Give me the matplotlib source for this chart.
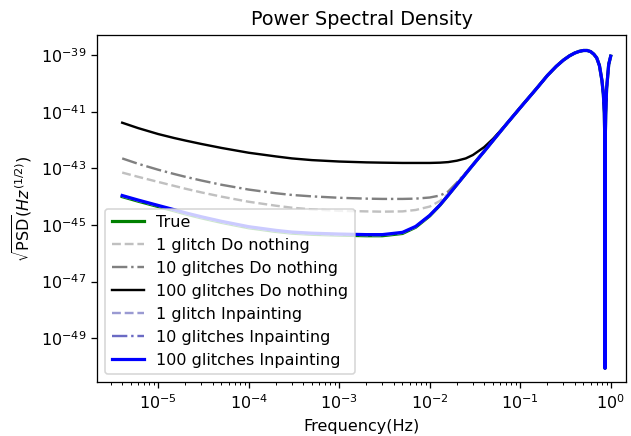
"""
plot.py - Densidad espectral de potencia (True / Do nothing / Inpainting)
"""

import numpy as np
import matplotlib.pyplot as plt
from matplotlib.ticker import LogLocator

# Frecuencias (Hz) donde se leyeron los valores de la figura
freq = [4e-6, 6e-6, 1e-5, 1.5e-5, 2e-5, 3e-5, 5e-5, 1e-4, 2e-4, 3e-4, 5e-4,
        1e-3, 2e-3, 3e-3, 5e-3, 7e-3, 1e-2, 1.3e-2, 1.6e-2, 2e-2, 2.5e-2,
        3e-2, 4e-2, 5e-2, 7e-2, 0.1, 0.15, 0.2, 0.25, 0.3, 0.35, 0.4, 0.45,
        0.5, 0.55, 0.6, 0.65, 0.7, 0.75, 0.8, 0.83, 0.85, 0.86, 0.865, 0.87,
        0.88, 0.9, 0.95, 1.0]

# log10(sqrt(PSD)) leido de la grafica
# parte comun a altas frecuencias (desde 3e-2 Hz)
true_high = [-42.88, -42.40, -42.02, -41.45, -40.86, -40.20, -39.72, -39.40,
             -39.18, -39.03, -38.93, -38.87, -38.84, -38.84, -38.88, -38.97,
             -39.10, -39.37, -39.90, -40.40, -41.05, -42.00, -50.06, -42.00,
             -41.10, -40.20, -39.33, -39.04]

log_true = [-44.00, -44.16, -44.35, -44.50, -44.61, -44.75, -44.91, -45.10,
            -45.23, -45.29, -45.33, -45.36, -45.38, -45.38, -45.30, -45.08,
            -44.68, -44.30, -43.95, -43.57, -43.19] + true_high
log_dn1 = [-43.15, -43.30, -43.48, -43.62, -43.72, -43.85, -44.00, -44.18,
           -44.32, -44.39, -44.45, -44.50, -44.52, -44.53, -44.52, -44.47,
           -44.35, -44.15, -43.90, -43.53, -43.17] + true_high
log_dn10 = [-42.65, -42.84, -43.05, -43.20, -43.30, -43.43, -43.58, -43.75,
            -43.88, -43.94, -43.99, -44.04, -44.07, -44.08, -44.08, -44.07,
            -44.03, -43.96, -43.82, -43.50, -43.16] + true_high
log_dn100 = [-41.39, -41.58, -41.79, -41.93, -42.02, -42.14, -42.28, -42.45,
             -42.58, -42.65, -42.71, -42.76, -42.79, -42.80, -42.81, -42.81,
             -42.81, -42.80, -42.78, -42.73, -42.65, -42.53, -42.25,
             -41.96] + true_high[3:]
log_inp1 = [-43.98, -44.14, -44.33, -44.48, -44.59, -44.73, -44.89, -45.08,
            -45.21, -45.27, -45.31, -45.34, -45.36, -45.36, -45.28, -45.07,
            -44.67, -44.29, -43.95, -43.57, -43.19] + true_high
log_inp10 = [-43.97, -44.13, -44.32, -44.47, -44.58, -44.72, -44.88, -45.07,
             -45.20, -45.26, -45.30, -45.33, -45.35, -45.35, -45.27, -45.06,
             -44.67, -44.29, -43.95, -43.57, -43.19] + true_high
log_inp100 = [-43.96, -44.12, -44.31, -44.46, -44.57, -44.71, -44.87, -45.06,
              -45.19, -45.25, -45.29, -45.32, -45.34, -45.34, -45.26, -45.05,
              -44.66, -44.29, -43.95, -43.57, -43.19] + true_high

labels = ['True', '1 glitch Do nothing', '10 glitches Do nothing',
          '100 glitches Do nothing', '1 glitch Inpainting',
          '10 glitches Inpainting', '100 glitches Inpainting']

series = [log_true, log_dn1, log_dn10, log_dn100, log_inp1, log_inp10, log_inp100]
colors = ['green', '#c0c0c0', '#808080', 'black', '#9a9ad2', '#6a6ac4', 'blue']
styles = ['-', '--', '-.', '-', '--', '-.', '-']
widths = [2, 1.5, 1.5, 1.5, 1.5, 1.5, 2]

DPI = 115
fig = plt.figure(figsize=(631 / DPI, 436 / DPI), dpi=DPI)
ax = fig.add_axes([0.1542, 0.1232, 0.8379, 0.7972])

f = np.array(freq)
for vals, lab, c, ls, lw in zip(series, labels, colors, styles, widths):
    ax.loglog(f, 10.0 ** np.array(vals), color=c, linestyle=ls, linewidth=lw, label=lab)

ax.set_xlim(10 ** -5.673, 10 ** 0.169)
ax.set_ylim(10 ** -50.553, 10 ** -38.283)
ax.set_yticks([1e-49, 1e-47, 1e-45, 1e-43, 1e-41, 1e-39])
ax.minorticks_off()
ax.xaxis.set_minor_locator(LogLocator(base=10, subs=np.arange(2, 10)))

ax.set_xlabel('Frequency(Hz)')
ax.set_ylabel(r'$\sqrt{\mathrm{PSD}}(Hz^{(1/2)})$')
ax.set_title('Power Spectral Density')
ax.legend(loc='lower left')

plt.savefig('out.png', dpi=DPI)
